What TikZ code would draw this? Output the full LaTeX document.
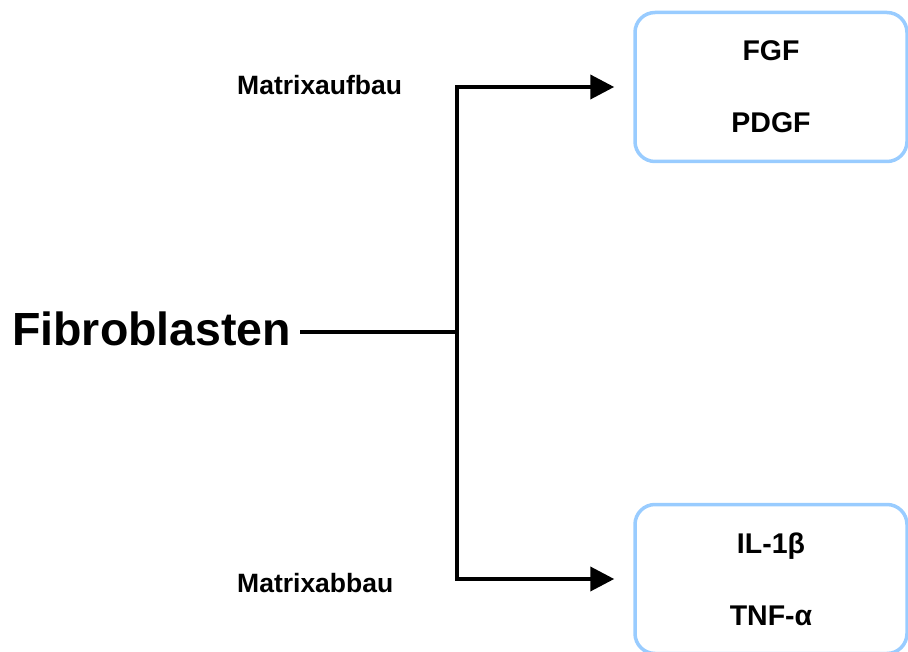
\documentclass[tikz,border=0pt]{standalone}
\usepackage{fontspec}
\setmainfont{Liberation Sans}
\usetikzlibrary{arrows.meta}
\definecolor{boxblue}{RGB}{153,204,255}
\tikzset{
  conn/.style={line width=4pt, draw=black},
  arr/.style={conn, -{Triangle[length=24pt,width=24pt]}, shorten >=19pt},
  cytobox/.style={draw=boxblue, line width=3.5pt, rounded corners=20pt,
    minimum width=272pt, minimum height=149pt, align=center,
    font=\bfseries\fontsize{28.5}{72}\selectfont},
  lbl/.style={font=\bfseries\fontsize{26.5}{30}\selectfont, inner sep=0pt, anchor=base west},
  bigtxt/.style={font=\bfseries\fontsize{46.5}{50}\selectfont, inner sep=0pt, anchor=base west}
}
\begin{document}
\begin{tikzpicture}[x=1pt,y=-1pt]
  \useasboundingbox (0,0) rectangle (908,652);
  \node[bigtxt] (fib) at (12,345) {Fibroblasten};
  \node[cytobox] (top) at (771,87) {FGF\\PDGF};
  \node[cytobox] (bot) at (771,579) {IL-1β\\TNF-α};
  \node[lbl] (auf) at (237,95) {Matrixaufbau};
  \node[lbl] (ab) at (237,592) {Matrixabbau};
  \coordinate (j) at (457,332);
  \draw[conn] ([xshift=9pt]fib.east |- j) -- (j);
  \draw[arr] (j) |- (top.west);
  \draw[arr] (j) |- (bot.west);
\end{tikzpicture}
\end{document}
